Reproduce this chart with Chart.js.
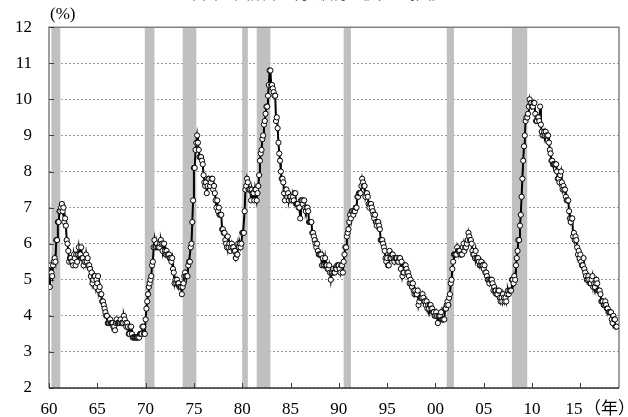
<!DOCTYPE html>
<html>
<head>
<meta charset="utf-8">
<script src="https://cdn.jsdelivr.net/npm/chart.js@4"></script>
<style>
  html, body { margin: 0; padding: 0; background: #fff; }
  #wrap { width: 628px; height: 417px; }
</style>
</head>
<body>
<div id="wrap"><canvas id="chart" width="628" height="417"></canvas></div>
<script>
// monthly unemployment rate (%), January 1960 onward
const rate1960s = [
  5.2, 4.8, 5.4, 5.2, 5.1, 5.4, 5.5, 5.6, 5.5, 6.1, 6.1, 6.6,
  6.6, 6.9, 6.9, 7.0, 7.1, 6.9, 7.0, 6.6, 6.7, 6.5, 6.1, 6.0,
  5.8, 5.5, 5.6, 5.6, 5.5, 5.5, 5.4, 5.7, 5.6, 5.4, 5.7, 5.5,
  5.7, 5.9, 5.7, 5.7, 5.9, 5.6, 5.6, 5.4, 5.5, 5.5, 5.7, 5.5,
  5.6, 5.4, 5.4, 5.3, 5.1, 5.2, 4.9, 5.0, 5.1, 5.1, 4.8, 5.0,
  4.9, 5.1, 4.7, 4.8, 4.6, 4.6, 4.4, 4.4, 4.3, 4.2, 4.1, 4.0,
  4.0, 3.8, 3.8, 3.8, 3.9, 3.8, 3.8, 3.8, 3.7, 3.7, 3.6, 3.8,
  3.9, 3.8, 3.8, 3.8, 3.8, 3.9, 3.8, 3.8, 3.8, 4.0, 3.9, 3.8,
  3.7, 3.8, 3.7, 3.5, 3.5, 3.7, 3.7, 3.5, 3.4, 3.4, 3.4, 3.4,
  3.4, 3.4, 3.4, 3.4, 3.4, 3.5, 3.5, 3.5, 3.7, 3.7, 3.5, 3.5
];
const rate1970s = [
  3.9, 4.2, 4.4, 4.6, 4.8, 4.9, 5.0, 5.1, 5.4, 5.5, 5.9, 6.1,
  5.9, 5.9, 6.0, 5.9, 5.9, 5.9, 6.0, 6.1, 6.0, 5.8, 6.0, 6.0,
  5.8, 5.7, 5.8, 5.7, 5.7, 5.7, 5.6, 5.6, 5.5, 5.6, 5.3, 5.2,
  4.9, 5.0, 4.9, 5.0, 4.9, 4.9, 4.8, 4.8, 4.8, 4.6, 4.8, 4.9,
  5.1, 5.2, 5.1, 5.1, 5.1, 5.4, 5.5, 5.5, 5.9, 6.0, 6.6, 7.2,
  8.1, 8.1, 8.6, 8.8, 9.0, 8.8, 8.6, 8.4, 8.4, 8.4, 8.3, 8.2,
  7.9, 7.7, 7.6, 7.7, 7.4, 7.6, 7.8, 7.8, 7.6, 7.7, 7.8, 7.8,
  7.5, 7.6, 7.4, 7.2, 7.0, 7.2, 6.9, 7.0, 6.8, 6.8, 6.8, 6.4,
  6.4, 6.3, 6.3, 6.1, 6.0, 5.9, 6.2, 5.9, 6.0, 5.8, 5.9, 6.0,
  5.9, 5.9, 5.8, 5.8, 5.6, 5.7, 5.7, 6.0, 5.9, 6.0, 5.9, 6.0
];
const rate1980s = [
  6.3, 6.3, 6.3, 6.9, 7.5, 7.6, 7.8, 7.7, 7.5, 7.5, 7.5, 7.2,
  7.5, 7.4, 7.4, 7.2, 7.5, 7.5, 7.2, 7.4, 7.6, 7.9, 8.3, 8.5,
  8.6, 8.9, 9.0, 9.3, 9.4, 9.6, 9.8, 9.8, 10.1, 10.4, 10.8, 10.8,
  10.4, 10.4, 10.3, 10.2, 10.1, 10.1, 9.4, 9.5, 9.2, 8.8, 8.5, 8.3,
  8.0, 7.8, 7.8, 7.7, 7.4, 7.2, 7.5, 7.5, 7.3, 7.4, 7.2, 7.3,
  7.3, 7.2, 7.2, 7.3, 7.2, 7.4, 7.4, 7.1, 7.1, 7.1, 7.0, 7.0,
  6.7, 7.2, 7.2, 7.1, 7.2, 7.2, 7.0, 6.9, 7.0, 7.0, 6.9, 6.6,
  6.6, 6.6, 6.6, 6.3, 6.3, 6.2, 6.1, 6.0, 5.9, 6.0, 5.8, 5.7,
  5.7, 5.7, 5.7, 5.4, 5.6, 5.4, 5.4, 5.6, 5.4, 5.4, 5.3, 5.3,
  5.4, 5.2, 5.0, 5.2, 5.2, 5.3, 5.2, 5.2, 5.3, 5.3, 5.4, 5.4
];
const rate1990s = [
  5.4, 5.3, 5.2, 5.4, 5.4, 5.2, 5.5, 5.7, 5.9, 5.9, 6.2, 6.3,
  6.4, 6.6, 6.8, 6.7, 6.9, 6.9, 6.8, 6.9, 6.9, 7.0, 7.0, 7.3,
  7.3, 7.4, 7.4, 7.4, 7.6, 7.8, 7.7, 7.6, 7.6, 7.3, 7.4, 7.4,
  7.3, 7.1, 7.0, 7.1, 7.1, 7.0, 6.9, 6.8, 6.7, 6.8, 6.6, 6.5,
  6.6, 6.6, 6.5, 6.4, 6.1, 6.1, 6.1, 6.0, 5.9, 5.8, 5.6, 5.5,
  5.6, 5.4, 5.4, 5.8, 5.6, 5.6, 5.7, 5.7, 5.6, 5.5, 5.6, 5.6,
  5.6, 5.5, 5.5, 5.6, 5.6, 5.3, 5.5, 5.1, 5.2, 5.2, 5.4, 5.4,
  5.3, 5.2, 5.2, 5.1, 4.9, 5.0, 4.9, 4.8, 4.9, 4.7, 4.6, 4.7,
  4.6, 4.6, 4.7, 4.3, 4.4, 4.5, 4.5, 4.5, 4.6, 4.5, 4.4, 4.4,
  4.3, 4.4, 4.2, 4.3, 4.2, 4.3, 4.3, 4.2, 4.2, 4.1, 4.1, 4.0
];
const rate2000s = [
  4.0, 4.1, 4.0, 3.8, 4.0, 4.0, 4.0, 4.1, 3.9, 3.9, 3.9, 3.9,
  4.2, 4.2, 4.3, 4.4, 4.3, 4.5, 4.6, 4.9, 5.0, 5.3, 5.5, 5.7,
  5.7, 5.7, 5.7, 5.9, 5.8, 5.8, 5.8, 5.7, 5.7, 5.7, 5.9, 6.0,
  5.8, 5.9, 5.9, 6.0, 6.1, 6.3, 6.2, 6.1, 6.1, 6.0, 5.8, 5.7,
  5.7, 5.6, 5.8, 5.6, 5.6, 5.6, 5.5, 5.4, 5.4, 5.5, 5.4, 5.4,
  5.3, 5.4, 5.2, 5.2, 5.1, 5.0, 5.0, 4.9, 5.0, 5.0, 5.0, 4.9,
  4.7, 4.8, 4.7, 4.7, 4.6, 4.6, 4.7, 4.7, 4.5, 4.4, 4.5, 4.4,
  4.6, 4.5, 4.4, 4.5, 4.4, 4.6, 4.7, 4.6, 4.7, 4.7, 4.7, 5.0,
  5.0, 4.9, 5.1, 5.0, 5.4, 5.6, 5.8, 6.1, 6.1, 6.5, 6.8, 7.3,
  7.8, 8.3, 8.7, 9.0, 9.4, 9.5, 9.5, 9.6, 9.8, 10.0, 9.9, 9.9
];
const rate2010s = [
  9.8, 9.8, 9.9, 9.9, 9.6, 9.4, 9.4, 9.5, 9.5, 9.4, 9.8, 9.3,
  9.1, 9.0, 9.0, 9.1, 9.0, 9.1, 9.0, 9.0, 9.0, 8.8, 8.6, 8.5,
  8.3, 8.3, 8.2, 8.2, 8.2, 8.2, 8.2, 8.0, 7.8, 7.8, 7.7, 7.9,
  8.0, 7.7, 7.5, 7.6, 7.5, 7.5, 7.3, 7.2, 7.2, 7.2, 6.9, 6.7,
  6.6, 6.7, 6.7, 6.2, 6.3, 6.1, 6.2, 6.1, 5.9, 5.7, 5.8, 5.6,
  5.7, 5.5, 5.4, 5.4, 5.6, 5.3, 5.2, 5.1, 5.0, 5.0, 5.1, 5.0,
  4.9, 4.9, 5.0, 5.1, 4.8, 4.9, 4.8, 4.9, 5.0, 4.9, 4.7, 4.7,
  4.7, 4.6, 4.4, 4.4, 4.4, 4.3, 4.3, 4.4, 4.3, 4.2, 4.2, 4.1,
  4.1, 4.1, 4.1, 3.9, 3.8, 4.0, 3.9, 3.9, 3.7, 3.7
];

// shaded recession periods (first and last month)
const recessionStart = ['1960-04', '1969-12', '1973-11', '1980-01', '1981-07', '1990-07', '2001-03', '2007-12'];
const recessionEnd = ['1961-02', '1970-11', '1975-03', '1980-07', '1982-11', '1991-03', '2001-11', '2009-06'];

const firstYear = 1960;
const xTickYears = [1960, 1965, 1970, 1975, 1980, 1985, 1990, 1995, 2000, 2005, 2010, 2015];
const yMin = 2;
const yMax = 12;

const allRates = [].concat(rate1960s, rate1970s, rate1980s, rate1990s, rate2000s, rate2010s);
const points = allRates.map((v, i) => ({ x: firstYear + i / 12, y: v }));

function monthToYear(s) {
  const [y, m] = s.split('-').map(Number);
  return y + (m - 1) / 12;
}

const serif = "'Liberation Serif', 'Times New Roman', 'Noto Sans CJK JP', serif";

const decorations = {
  id: 'decorations',
  beforeDatasetsDraw(chart) {
    const { ctx, chartArea } = chart;
    const xs = chart.scales.x;
    const ys = chart.scales.y;
    ctx.save();
    // recession bands
    ctx.fillStyle = '#c0c0c0';
    recessionStart.forEach((s, i) => {
      const x0 = xs.getPixelForValue(monthToYear(s));
      const x1 = xs.getPixelForValue(monthToYear(recessionEnd[i]) + 1 / 12);
      ctx.fillRect(x0, chartArea.top, x1 - x0, chartArea.bottom - chartArea.top);
    });
    // frame
    ctx.strokeStyle = '#808080';
    ctx.lineWidth = 1.5;
    ctx.beginPath();
    ctx.moveTo(chartArea.left, chartArea.bottom);
    ctx.lineTo(chartArea.left, chartArea.top);
    ctx.lineTo(chartArea.right, chartArea.top);
    ctx.lineTo(chartArea.right, chartArea.bottom);
    ctx.stroke();
    // inward ticks
    ctx.strokeStyle = '#404040';
    ctx.lineWidth = 1;
    ctx.beginPath();
    ys.ticks.forEach(t => {
      const y = Math.round(ys.getPixelForValue(t.value)) + 0.5;
      ctx.moveTo(chartArea.left, y);
      ctx.lineTo(chartArea.left + 5, y);
    });
    xs.ticks.forEach(t => {
      const x = Math.round(xs.getPixelForValue(t.value)) + 0.5;
      ctx.moveTo(x, chartArea.bottom);
      ctx.lineTo(x, chartArea.bottom - 5);
    });
    ctx.stroke();
    ctx.strokeStyle = '#303030';
    ctx.lineWidth = 1.5;
    ctx.beginPath();
    ctx.moveTo(chartArea.left, chartArea.bottom);
    ctx.lineTo(chartArea.right, chartArea.bottom);
    ctx.stroke();
    ctx.restore();
  },
  afterDraw(chart) {
    const { ctx, chartArea } = chart;
    ctx.save();
    ctx.fillStyle = '#000';
    ctx.font = '17px ' + serif;
    ctx.textAlign = 'left';
    ctx.textBaseline = 'middle';
    ctx.fillText('(%)', chartArea.left + 1, 15);
    ctx.fillText('（年）', 584, chartArea.bottom + 22);
    // title, mostly cut off at the top edge
    ctx.font = "16px 'Noto Sans CJK JP', sans-serif";
    ctx.textAlign = 'center';
    ctx.textBaseline = 'alphabetic';
    ctx.fillStyle = '#555';
    ctx.fillText('米国の失業率（季節調整値）の推移', 314, -1.5);
    ctx.restore();
  }
};

new Chart(document.getElementById('chart'), {
  type: 'line',
  data: {
    datasets: [{
      data: points,
      borderColor: '#000',
      borderWidth: 2,
      pointRadius: 2.6,
      pointBorderWidth: 1,
      pointBorderColor: '#000',
      pointBackgroundColor: '#fff',
      tension: 0
    }]
  },
  options: {
    responsive: false,
    animation: false,
    layout: { padding: { left: 0, right: 9, top: 27, bottom: 0 } },
    plugins: { legend: { display: false }, tooltip: { enabled: false } },
    scales: {
      x: {
        type: 'linear',
        min: firstYear,
        max: 2019,
        afterFit: s => { s.height = 29; },
        afterBuildTicks: s => { s.ticks = xTickYears.map(v => ({ value: v })); },
        grid: { display: false, drawTicks: false },
        border: { display: false },
        ticks: {
          padding: 11,
          maxRotation: 0,
          autoSkip: false,
          color: '#000',
          font: { family: serif, size: 17 },
          callback: v => {
            const lab = String(v % 100).padStart(2, '0');
            return v === 2015 ? lab + '\u00a0\u00a0\u00a0' : lab;
          }
        }
      },
      y: {
        min: yMin,
        max: yMax,
        afterFit: s => { s.width = 49; },
        grid: { color: '#9a9a9a', lineWidth: 1, drawTicks: false },
        border: { display: false, dash: [2, 2] },
        ticks: {
          stepSize: 1,
          padding: 17,
          color: '#000',
          font: { family: serif, size: 17 }
        }
      }
    }
  },
  plugins: [decorations]
});
</script>
</body>
</html>
